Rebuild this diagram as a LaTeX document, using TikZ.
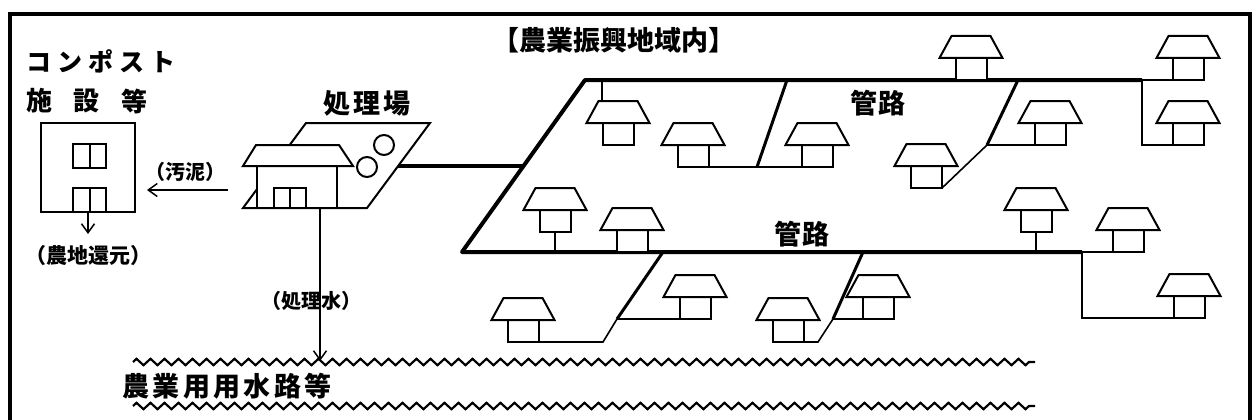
\documentclass[tikz,border=0pt]{standalone}
\usepackage{fontspec}
\newfontfamily\jp{Noto Sans CJK JP}
\usetikzlibrary{arrows.meta,decorations.pathmorphing}
\tikzset{
  jt/.style={inner sep=0pt, font=\jp\bfseries\fontsize{#1}{#1}\selectfont},
  frame/.style={line width=3.5pt},
  pipe/.style={line width=4pt, line join=round},
  branch/.style={line width=3pt},
  thinl/.style={line width=1.6pt},
  hl/.style={line width=2pt},
  wave/.style={line width=2.2pt, decorate, decoration={zigzag, segment length=14pt, amplitude=3.2pt}},
  arr/.style={line width=1.5pt, -{Straight Barb[length=9pt,width=13pt,line width=1.5pt]}},
  house/.pic={
    \draw[hl, fill=white] (-15.5,0) rectangle (15.5,-22);
    \draw[hl, fill=white] (-31.5,-22) -- (-19.5,-44) -- (19.5,-44) -- (31.5,-22) -- cycle;
  }
}
\begin{document}
\begin{tikzpicture}[x=1pt,y=-1pt]
\useasboundingbox (0,0) rectangle (1255,420);
% frame
\draw[frame] (10,420) -- (10,14) -- (1250,14) -- (1250,420);

% ---------- compost facility ----------
\node[jt=25] (konpo) at (101,61) {コ\kern6pt ン\kern6pt ポ\kern6pt ス\kern6pt ト};
\node[jt=26] (shi) at (40,101) {施};
\node[jt=26] (setsu) at (86,101) {設};
\node[jt=26] (tou) at (134,101) {等};
\draw[hl] (41,123) rectangle (135,212);
\draw[hl] (73,144) rectangle (106,168); \draw[hl] (89.5,144) -- (89.5,168);
\draw[hl] (73,188) rectangle (106,212); \draw[hl] (89.5,188) -- (89.5,212);
\coordinate (cb) at (88,212);
\coordinate (cbe) at (88,234);
\draw[arr] (cb) -- (cbe);
\node[jt=21] (nouchi) at (88,256) {（農地還元）};
\coordinate (os1) at (228,190);
\coordinate (os2) at (147,190);
\draw[arr] (os1) -- (os2);
\node[jt=20] (odei) at (185,172) {（汚泥）};

% ---------- treatment plant ----------
\node[jt=27] (shoriba) at (367,103) {処\kern3pt 理\kern3pt 場};
\draw[hl, fill=white] (306,123) -- (430,123) -- (367,208) -- (243,208) -- cycle;
\draw[hl, fill=white] (257,166) rectangle (337,208);
\draw[hl, fill=white] (243,166) -- (256,145) -- (339,145) -- (353,166) -- cycle;
\draw[hl] (274,188) rectangle (306,208); \draw[hl] (290,188) -- (290,208);
\draw[hl, fill=white] (367,167) circle[radius=10pt];
\draw[hl, fill=white] (384,145) circle[radius=10pt];
\coordinate (plantout) at (398,166);
\coordinate (netin) at (524,166);
\draw[pipe] (plantout) -- (netin);
\coordinate (wtop) at (320,208);
\coordinate (wend) at (320,361);
\draw[arr, line width=1.3pt] (wtop) -- (wend);
\node[jt=20] (shorisui) at (311,301) {（処理水）};

% ---------- channel ----------
\coordinate (w1a) at (133,362); \coordinate (w1b) at (1035,362);
\coordinate (w2a) at (133,406); \coordinate (w2b) at (1035,406);
\draw[wave] (w1a) -- (w1b);
\draw[wave] (w2a) -- (w2b);
\node[jt=27] (suiro) at (227,386) {農\kern3.4pt 業\kern3.4pt 用\kern3.4pt 用\kern3.4pt 水\kern3.4pt 路\kern3.4pt 等};

% ---------- pipe network ----------
\node[jt=27] (title) at (614,40) {【農業振興地域内】};
\coordinate (tR) at (1142,80);
\coordinate (tL) at (585,80);
\coordinate (bL) at (462,252);
\coordinate (bR) at (1082,252);
\draw[pipe] (tR) -- (tL) -- (bL) -- (bR);
\node[jt=27] (kanro1) at (878,103) {管\kern1pt 路};
\node[jt=27] (kanro2) at (802,234) {管\kern1pt 路};

% branches
\coordinate (b1t) at (787,80);  \coordinate (b1b) at (757,167);
\draw[branch] (b1t) -- (b1b);
\draw[thinl] (678,167) -- (833,167);
\coordinate (b2t) at (1018,80); \coordinate (b2m) at (987,145);
\draw[branch] (b2t) -- (b2m);
\draw[thinl] (b2m) -- (1066,145);
\draw[thinl] (b2m) -- (942,188);
\draw[thinl] (602,80) -- (602,101);
\draw[thinl] (tR) -- (1172,80);
\draw[thinl] (tR) -- (1142,145) -- (1172,145);
\draw[thinl] (555,232) -- (555,252);
\draw[thinl] (1036,232) -- (1036,252);
\draw[thinl] (bR) -- (1143,252);
\draw[thinl] (bR) -- (1082,318) -- (1189,318);
\coordinate (b3t) at (663,252); \coordinate (b3m) at (617,319);
\draw[branch] (b3t) -- (b3m);
\draw[thinl] (b3m) -- (603,342) -- (507,342);
\draw[thinl] (b3m) -- (711,319);
\coordinate (b4t) at (863,252); \coordinate (b4m) at (833,319);
\draw[branch] (b4t) -- (b4m);
\draw[thinl] (b4m) -- (818,342) -- (773,342);
\draw[thinl] (b4m) -- (893,319);

% houses
\pic at (618,145) {house};
\pic at (693,167) {house};
\pic at (817,167) {house};
\pic at (971,80) {house};
\pic at (1188,80) {house};
\pic at (1188,145) {house};
\pic at (1050,145) {house};
\pic at (926,188) {house};
\pic at (555,232) {house};
\pic at (632,252) {house};
\pic at (1036,232) {house};
\pic at (1128,252) {house};
\pic at (1189,318) {house};
\pic at (523,342) {house};
\pic at (695,319) {house};
\pic at (788,342) {house};
\pic at (878,319) {house};
\end{tikzpicture}
\end{document}
